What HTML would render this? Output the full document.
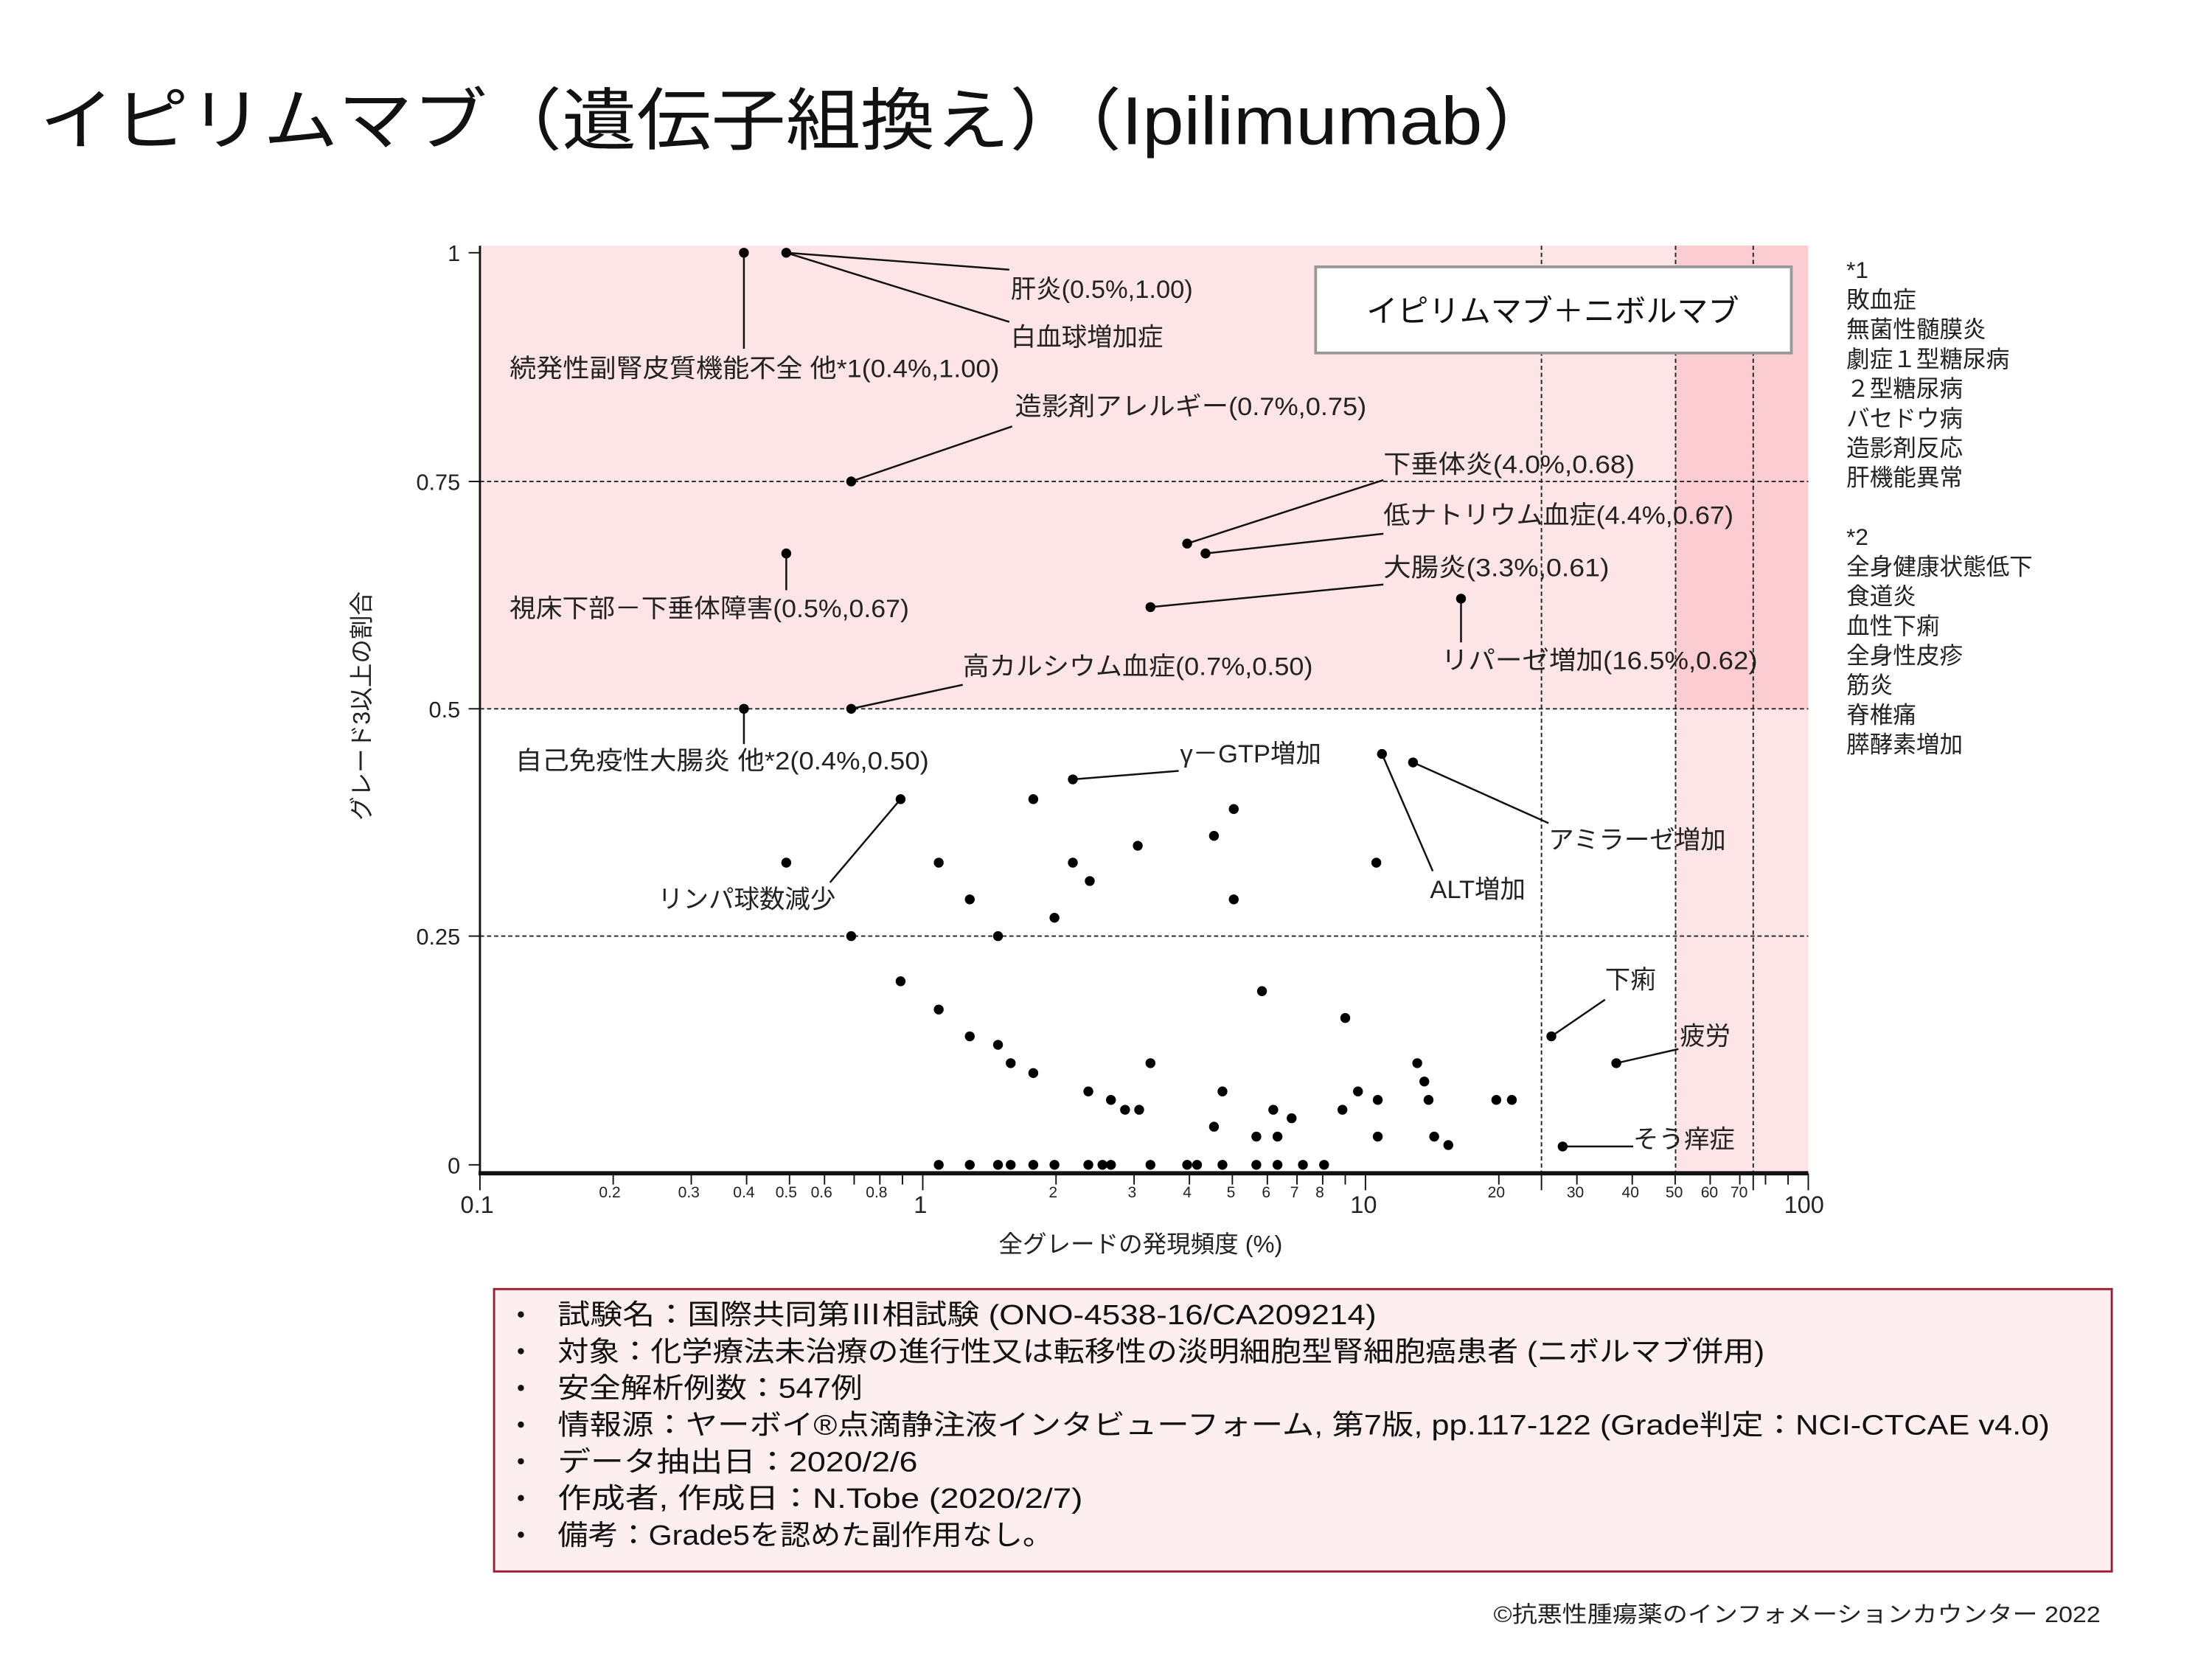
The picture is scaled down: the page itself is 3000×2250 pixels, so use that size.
<!DOCTYPE html>
<html><head><meta charset="utf-8"><style>html,body{margin:0;padding:0;background:#fff}svg{display:block}</style></head>
<body>
<svg xmlns="http://www.w3.org/2000/svg" width="3000" height="2250" viewBox="0 0 1567 1175" preserveAspectRatio="none" font-family="'Liberation Sans','Noto Sans CJK JP',sans-serif" fill="#222">
<text x="28" y="102" font-size="48" textLength="1075" lengthAdjust="spacingAndGlyphs" fill="#111">イピリムマブ（遺伝子組換え）（Ipilimumab）</text>

<rect x="340" y="174" width="941" height="328" fill="#fde4e7"/>
<rect x="1187" y="174" width="94" height="657" fill="#fde4e7"/>
<rect x="1187" y="174" width="94" height="328" fill="#fbcdd3"/>

<g stroke="#222" stroke-width="1" stroke-dasharray="3,2">
<line x1="340" y1="341" x2="1281" y2="341"/>
<line x1="340" y1="502" x2="1281" y2="502"/>
<line x1="340" y1="663" x2="1281" y2="663"/>
<line x1="1092" y1="174" x2="1092" y2="831"/>
<line x1="1187" y1="174" x2="1187" y2="831"/>
<line x1="1242" y1="174" x2="1242" y2="831"/>
</g>

<g stroke="#111">
<line x1="340" y1="174" x2="340" y2="832" stroke-width="1.5"/>
<line x1="339" y1="831" x2="1281" y2="831" stroke-width="3"/>
<line x1="332" y1="179" x2="340" y2="179"/>
<line x1="332" y1="341" x2="340" y2="341"/>
<line x1="332" y1="502" x2="340" y2="502"/>
<line x1="332" y1="663" x2="340" y2="663"/>
<line x1="332" y1="825" x2="340" y2="825"/>
<g stroke-width="1">
<line x1="340" y1="831" x2="340" y2="843"/>
<line x1="434.4" y1="831" x2="434.4" y2="839"/>
<line x1="489.7" y1="831" x2="489.7" y2="839"/>
<line x1="528.9" y1="831" x2="528.9" y2="839"/>
<line x1="559.3" y1="831" x2="559.3" y2="839"/>
<line x1="584.1" y1="831" x2="584.1" y2="839"/>
<line x1="605.1" y1="831" x2="605.1" y2="839"/>
<line x1="623.3" y1="831" x2="623.3" y2="839"/>
<line x1="639.3" y1="831" x2="639.3" y2="839"/>
<line x1="653.7" y1="831" x2="653.7" y2="843"/>
<line x1="748.1" y1="831" x2="748.1" y2="839"/>
<line x1="803.4" y1="831" x2="803.4" y2="839"/>
<line x1="842.6" y1="831" x2="842.6" y2="839"/>
<line x1="873.0" y1="831" x2="873.0" y2="839"/>
<line x1="897.8" y1="831" x2="897.8" y2="839"/>
<line x1="918.8" y1="831" x2="918.8" y2="839"/>
<line x1="937.0" y1="831" x2="937.0" y2="839"/>
<line x1="953.0" y1="831" x2="953.0" y2="839"/>
<line x1="967.3" y1="831" x2="967.3" y2="843"/>
<line x1="1061.8" y1="831" x2="1061.8" y2="839"/>
<line x1="1092" y1="831" x2="1092" y2="843"/>
<line x1="1117.1" y1="831" x2="1117.1" y2="839"/>
<line x1="1156.3" y1="831" x2="1156.3" y2="839"/>
<line x1="1186.7" y1="831" x2="1186.7" y2="839"/>
<line x1="1211.5" y1="831" x2="1211.5" y2="839"/>
<line x1="1232.5" y1="831" x2="1232.5" y2="839"/>
<line x1="1242" y1="831" x2="1242" y2="843"/>
<line x1="1250.7" y1="831" x2="1250.7" y2="839"/>
<line x1="1266.7" y1="831" x2="1266.7" y2="839"/>
<line x1="1281" y1="831" x2="1281" y2="843"/>
</g>
</g>

<g font-size="16" text-anchor="end" fill="#222">
<text x="326" y="185">1</text>
<text x="326" y="347">0.75</text>
<text x="326" y="508">0.5</text>
<text x="326" y="669">0.25</text>
<text x="326" y="831">0</text>
</g>
<g font-size="17" text-anchor="middle">
<text x="338" y="859">0.1</text>
<text x="652" y="859">1</text>
<text x="966" y="859">10</text>
<text x="1278" y="859">100</text>
</g>
<g font-size="11" text-anchor="middle">
<text x="432" y="848">0.2</text><text x="488" y="848">0.3</text><text x="527" y="848">0.4</text><text x="557" y="848">0.5</text><text x="582" y="848">0.6</text><text x="621" y="848">0.8</text>
<text x="746" y="848">2</text><text x="802" y="848">3</text><text x="841" y="848">4</text><text x="872" y="848">5</text><text x="897" y="848">6</text><text x="917" y="848">7</text><text x="935" y="848">8</text>
<text x="1060" y="848">20</text><text x="1116" y="848">30</text><text x="1155" y="848">40</text><text x="1186" y="848">50</text><text x="1211" y="848">60</text><text x="1232" y="848">70</text>
</g>
<text x="808" y="887" font-size="17" text-anchor="middle">全グレードの発現頻度 (%)</text>
<text transform="translate(262,500) rotate(-90)" font-size="17" text-anchor="middle">グレード3以上の割合</text>

<g stroke="#111" stroke-width="1.3">
<line x1="557" y1="179" x2="715" y2="191"/>
<line x1="557" y1="179" x2="715" y2="228"/>
<line x1="527" y1="179" x2="527" y2="247"/>
<line x1="603" y1="341" x2="717" y2="302"/>
<line x1="841" y1="385" x2="980" y2="340"/>
<line x1="854" y1="392" x2="980" y2="378"/>
<line x1="815" y1="430" x2="980" y2="414"/>
<line x1="1035" y1="424" x2="1035" y2="455"/>
<line x1="557" y1="392" x2="557" y2="418"/>
<line x1="603" y1="502" x2="682" y2="485"/>
<line x1="527" y1="502" x2="527" y2="527"/>
<line x1="760" y1="552" x2="835" y2="546"/>
<line x1="638" y1="566" x2="588" y2="625"/>
<line x1="979" y1="534" x2="1015" y2="617"/>
<line x1="1001" y1="540" x2="1097" y2="583"/>
<line x1="1099" y1="734" x2="1137" y2="708"/>
<line x1="1145" y1="753" x2="1189" y2="743"/>
<line x1="1107" y1="812" x2="1157" y2="812"/>
</g>

<g fill="#000">
<circle cx="527" cy="179" r="3.5"/><circle cx="557" cy="179" r="3.5"/><circle cx="603" cy="341" r="3.5"/><circle cx="557" cy="392" r="3.5"/>
<circle cx="527" cy="502" r="3.5"/><circle cx="603" cy="502" r="3.5"/><circle cx="841" cy="385" r="3.5"/><circle cx="854" cy="392" r="3.5"/><circle cx="815" cy="430" r="3.5"/><circle cx="1035" cy="424" r="3.5"/>
<circle cx="760" cy="552" r="3.5"/><circle cx="732" cy="566" r="3.5"/><circle cx="979" cy="534" r="3.5"/><circle cx="1001" cy="540" r="3.5"/><circle cx="638" cy="566" r="3.5"/><circle cx="557" cy="611" r="3.5"/><circle cx="665" cy="611" r="3.5"/><circle cx="760" cy="611" r="3.5"/><circle cx="806" cy="599" r="3.5"/><circle cx="860" cy="592" r="3.5"/><circle cx="874" cy="573" r="3.5"/><circle cx="975" cy="611" r="3.5"/><circle cx="687" cy="637" r="3.5"/><circle cx="772" cy="624" r="3.5"/><circle cx="874" cy="637" r="3.5"/><circle cx="747" cy="650" r="3.5"/><circle cx="603" cy="663" r="3.5"/><circle cx="707" cy="663" r="3.5"/>
<circle cx="638" cy="695" r="3.5"/><circle cx="665" cy="715" r="3.5"/><circle cx="687" cy="734" r="3.5"/><circle cx="707" cy="740" r="3.5"/><circle cx="716" cy="753" r="3.5"/><circle cx="732" cy="760" r="3.5"/><circle cx="894" cy="702" r="3.5"/><circle cx="953" cy="721" r="3.5"/><circle cx="815" cy="753" r="3.5"/><circle cx="1004" cy="753" r="3.5"/><circle cx="1009" cy="766" r="3.5"/><circle cx="771" cy="773" r="3.5"/><circle cx="787" cy="779" r="3.5"/><circle cx="797" cy="786" r="3.5"/><circle cx="807" cy="786" r="3.5"/><circle cx="866" cy="773" r="3.5"/><circle cx="962" cy="773" r="3.5"/><circle cx="976" cy="779" r="3.5"/><circle cx="1012" cy="779" r="3.5"/><circle cx="1060" cy="779" r="3.5"/><circle cx="1071" cy="779" r="3.5"/><circle cx="902" cy="786" r="3.5"/><circle cx="951" cy="786" r="3.5"/><circle cx="915" cy="792" r="3.5"/><circle cx="860" cy="798" r="3.5"/><circle cx="890" cy="805" r="3.5"/><circle cx="905" cy="805" r="3.5"/><circle cx="976" cy="805" r="3.5"/><circle cx="1016" cy="805" r="3.5"/><circle cx="1026" cy="811" r="3.5"/><circle cx="1099" cy="734" r="3.5"/><circle cx="1145" cy="753" r="3.5"/><circle cx="1107" cy="812" r="3.5"/>
<circle cx="665" cy="825" r="3.5"/><circle cx="687" cy="825" r="3.5"/><circle cx="707" cy="825" r="3.5"/><circle cx="716" cy="825" r="3.5"/><circle cx="732" cy="825" r="3.5"/><circle cx="747" cy="825" r="3.5"/><circle cx="771" cy="825" r="3.5"/><circle cx="781" cy="825" r="3.5"/><circle cx="787" cy="825" r="3.5"/><circle cx="815" cy="825" r="3.5"/><circle cx="841" cy="825" r="3.5"/><circle cx="848" cy="825" r="3.5"/><circle cx="866" cy="825" r="3.5"/><circle cx="890" cy="825" r="3.5"/><circle cx="905" cy="825" r="3.5"/><circle cx="923" cy="825" r="3.5"/><circle cx="938" cy="825" r="3.5"/>
</g>

<g font-size="18" fill="#222">
<text x="716" y="211">肝炎(0.5%,1.00)</text>
<text x="716" y="245">白血球増加症</text>
<text x="361" y="267" textLength="347" lengthAdjust="spacingAndGlyphs">続発性副腎皮質機能不全 他*1(0.4%,1.00)</text>
<text x="719" y="294" textLength="249" lengthAdjust="spacingAndGlyphs">造影剤アレルギー(0.7%,0.75)</text>
<text x="980" y="335" textLength="178" lengthAdjust="spacingAndGlyphs">下垂体炎(4.0%,0.68)</text>
<text x="980" y="371" textLength="248" lengthAdjust="spacingAndGlyphs">低ナトリウム血症(4.4%,0.67)</text>
<text x="980" y="408" textLength="160" lengthAdjust="spacingAndGlyphs">大腸炎(3.3%,0.61)</text>
<text x="1021" y="474" textLength="224" lengthAdjust="spacingAndGlyphs">リパーゼ増加(16.5%,0.62)</text>
<text x="361" y="437" textLength="283" lengthAdjust="spacingAndGlyphs">視床下部－下垂体障害(0.5%,0.67)</text>
<text x="682" y="478" textLength="248" lengthAdjust="spacingAndGlyphs">高カルシウム血症(0.7%,0.50)</text>
<text x="365" y="545" textLength="293" lengthAdjust="spacingAndGlyphs">自己免疫性大腸炎 他*2(0.4%,0.50)</text>
<text x="836" y="540">γ－GTP増加</text>
<text x="466" y="643">リンパ球数減少</text>
<text x="1013" y="636">ALT増加</text>
<text x="1097" y="601">アミラーゼ増加</text>
<text x="1137" y="700">下痢</text>
<text x="1190" y="740">疲労</text>
<text x="1157" y="813">そう痒症</text>
</g>

<rect x="932" y="189" width="337" height="61" fill="#fff" stroke="#999" stroke-width="2"/>
<text x="1100" y="228" font-size="22" text-anchor="middle" fill="#111">イピリムマブ＋ニボルマブ</text>

<g font-size="16.5" fill="#222">
<text x="1308" y="197">*1</text><text x="1308" y="218">敗血症</text><text x="1308" y="239">無菌性髄膜炎</text><text x="1308" y="260">劇症１型糖尿病</text><text x="1308" y="281">２型糖尿病</text><text x="1308" y="302">バセドウ病</text><text x="1308" y="323">造影剤反応</text><text x="1308" y="344">肝機能異常</text>
<text x="1308" y="386">*2</text><text x="1308" y="407">全身健康状態低下</text><text x="1308" y="428">食道炎</text><text x="1308" y="449">血性下痢</text><text x="1308" y="470">全身性皮疹</text><text x="1308" y="491">筋炎</text><text x="1308" y="512">脊椎痛</text><text x="1308" y="533">膵酵素増加</text>
</g>

<rect x="350" y="913" width="1146" height="200" fill="#fdeef0" stroke="#9e1b32" stroke-width="1.5"/>
<g fill="#111">
<circle cx="369" cy="931" r="2.2"/><circle cx="369" cy="957" r="2.2"/><circle cx="369" cy="983" r="2.2"/><circle cx="369" cy="1009" r="2.2"/><circle cx="369" cy="1035" r="2.2"/><circle cx="369" cy="1061" r="2.2"/><circle cx="369" cy="1087" r="2.2"/>
</g>
<g font-size="20" fill="#111">
<text x="395" y="938" textLength="580" lengthAdjust="spacingAndGlyphs">試験名：国際共同第Ⅲ相試験 (ONO-4538-16/CA209214)</text>
<text x="395" y="964" textLength="855" lengthAdjust="spacingAndGlyphs">対象：化学療法未治療の進行性又は転移性の淡明細胞型腎細胞癌患者 (ニボルマブ併用)</text>
<text x="395" y="990" textLength="216" lengthAdjust="spacingAndGlyphs">安全解析例数：547例</text>
<text x="395" y="1016" textLength="1057" lengthAdjust="spacingAndGlyphs">情報源：ヤーボイ®点滴静注液インタビューフォーム, 第7版, pp.117-122 (Grade判定：NCI-CTCAE v4.0)</text>
<text x="395" y="1042" textLength="255" lengthAdjust="spacingAndGlyphs">データ抽出日：2020/2/6</text>
<text x="395" y="1068" textLength="372" lengthAdjust="spacingAndGlyphs">作成者, 作成日：N.Tobe (2020/2/7)</text>
<text x="395" y="1094" textLength="351" lengthAdjust="spacingAndGlyphs">備考：Grade5を認めた副作用なし。</text>
</g>
<text x="1488" y="1149" font-size="16" text-anchor="end" textLength="430" lengthAdjust="spacingAndGlyphs">©抗悪性腫瘍薬のインフォメーションカウンター 2022</text>
</svg>
</body></html>
